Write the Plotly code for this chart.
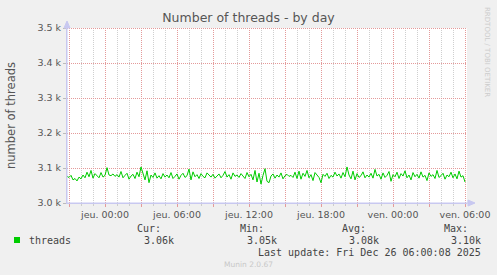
import plotly.graph_objects as go
import pandas as pd

# ---- data ----
start_time = "2025-12-24 20:50"
step_minutes = 10
threads = [
    3076, 3073, 3079, 3066, 3070, 3063, 3074, 3069, 3080, 3072, 3088, 3075, 3093, 3071, 3084, 3077, 3072, 3087, 3074, 3079, 3101, 3080, 3078, 3083, 3076,
    3081, 3074, 3090, 3072, 3079, 3085, 3068, 3077, 3082, 3070, 3088, 3075, 3103, 3082, 3066, 3092, 3058, 3080, 3073, 3086, 3071, 3078, 3069, 3084, 3074,
    3080, 3072, 3087, 3070, 3076, 3083, 3068, 3079, 3085, 3073, 3078, 3097, 3066, 3089, 3075, 3081, 3070, 3084, 3076, 3072, 3086, 3079, 3074, 3082, 3071,
    3077, 3083, 3072, 3079, 3090, 3074, 3081, 3068, 3086, 3076, 3080, 3073, 3084, 3078, 3070, 3087, 3075, 3082, 3066, 3093, 3060, 3085, 3054, 3079, 3098,
    3062, 3058, 3077, 3083, 3071, 3080, 3074, 3086, 3069, 3078, 3082, 3076, 3079, 3073, 3088, 3070, 3091, 3068, 3085, 3076, 3093, 3072, 3081, 3064, 3087,
    3079, 3073, 3058, 3082, 3076, 3085, 3070, 3079, 3074, 3088, 3077, 3083, 3071, 3087, 3075, 3103, 3080, 3069, 3091, 3066, 3084, 3073, 3078, 3089, 3072,
    3080, 3074, 3085, 3071, 3096, 3077, 3082, 3068, 3086, 3073, 3079, 3090, 3062, 3081, 3075, 3088, 3070, 3084, 3077, 3092, 3072, 3080, 3066, 3087, 3075,
    3082, 3071, 3089, 3074, 3079, 3064, 3086, 3076, 3081, 3070, 3093, 3073, 3078, 3085, 3068, 3080, 3075, 3088, 3072, 3083, 3069, 3091, 3074, 3078, 3060,
]
x_range = ["2025-12-24 20:50", "2025-12-26 06:10"]
y_range = [3000, 3500]
y_tickvals = [3000, 3100, 3200, 3300, 3400, 3500]
y_ticktext = ["3.0 k", "3.1 k", "3.2 k", "3.3 k", "3.4 k", "3.5 k"]
x_major = pd.date_range("2025-12-24 21:00", "2025-12-26 06:00", freq="3h")
x_hours = pd.date_range("2025-12-24 21:00", "2025-12-26 06:00", freq="1h")
x_label_map = {
    "2025-12-25 00:00": "jeu. 00:00", "2025-12-25 06:00": "jeu. 06:00",
    "2025-12-25 12:00": "jeu. 12:00", "2025-12-25 18:00": "jeu. 18:00",
    "2025-12-26 00:00": "ven. 00:00", "2025-12-26 06:00": "ven. 06:00",
}
legend_name = "threads"
stats_headers = ["Cur:", "Min:", "Avg:", "Max:"]
stats_values = ["3.06k", "3.05k", "3.08k", "3.10k"]
last_update = "Last update: Fri Dec 26 06:00:08 2025"

times = pd.date_range(start_time, periods=len(threads), freq=f"{step_minutes}min")
major_set = set(x_major)
x_minor = [t for t in x_hours if t not in major_set]

W, H = 497, 275
L, R, T, B = 67, 467, 28, 203

def px(x):
    return (x - L) / (R - L)

def py(y):
    return (B - y) / (B - T)

# half a pixel, in data units, so 1px gridlines land on whole pixel rows/columns
x0_ts, x1_ts = pd.Timestamp(x_range[0]), pd.Timestamp(x_range[1])
half_px_time = (x1_ts - x0_ts) / (R - L) / 2
half_px_val = (y_range[1] - y_range[0]) / (B - T) / 2

TXT = "#555555"
GRID_MAJ = "#E49A9A"
GRID_MIN = "#CFCFCF"
AXIS = "#C8C8F0"
DOT = "1px,1px"

fig = go.Figure()
fig.add_trace(go.Scatter(x=times, y=threads, mode="lines",
                         line=dict(color="#00CC00", width=1), hoverinfo="skip"))
fig.add_trace(go.Scatter(x=[times[0]], y=[threads[0]], mode="markers", xaxis="x2",
                         marker=dict(opacity=0), hoverinfo="skip"))

ticktext = [x_label_map.get(t.strftime("%Y-%m-%d %H:%M"), "") for t in x_major]

fig.update_layout(
    width=W, height=H,
    margin=dict(l=L, r=W - R, t=T, b=H - B, autoexpand=False),
    paper_bgcolor="#F0F0F0", plot_bgcolor="#FFFFFF",
    showlegend=False,
    font=dict(family="DejaVu Sans", color=TXT),
    title=dict(text="Number of threads - by day", x=0.5, xanchor="center",
               y=1 - 18 / H, yanchor="middle", font=dict(size=12.5, color=TXT)),
    xaxis2=dict(range=x_range, overlaying="x", side="bottom", tickvals=x_minor,
                ticktext=["" for _ in x_minor], showgrid=False,
                ticks="outside", ticklen=2, tickcolor="#CCCCCC",
                showline=False, zeroline=False, fixedrange=True, automargin=False),
    xaxis=dict(range=x_range, tickvals=x_major, ticktext=ticktext, showgrid=False,
               ticks="outside", ticklen=3, tickcolor=GRID_MAJ,
               tickfont=dict(size=9.5, color=TXT),
               showline=True, linecolor=AXIS, linewidth=1,
               zeroline=False, fixedrange=True, automargin=False),
    yaxis=dict(range=y_range, tickvals=y_tickvals, ticktext=y_ticktext, showgrid=False,
               ticks="outside", ticklen=3, tickcolor="#BBBBBB",
               tickfont=dict(size=9.5, color=TXT),
               title=dict(text="number of threads", font=dict(size=11.5, color=TXT), standoff=19),
               showline=True, linecolor=AXIS, linewidth=1,
               zeroline=False, fixedrange=True, automargin=False),
)

# gridlines as crisp dotted shapes
for t in x_minor:
    fig.add_shape(type="line", xref="x", yref="paper", x0=t + half_px_time, x1=t + half_px_time,
                  y0=0, y1=1, layer="below", line=dict(color=GRID_MIN, width=1, dash=DOT))
for t in x_major:
    fig.add_shape(type="line", xref="x", yref="paper", x0=t + half_px_time, x1=t + half_px_time,
                  y0=0, y1=1, layer="below", line=dict(color=GRID_MAJ, width=1, dash=DOT))
for v in y_tickvals[1:]:
    fig.add_shape(type="line", xref="paper", yref="y", x0=0, x1=1,
                  y0=v - half_px_val, y1=v - half_px_val, layer="below",
                  line=dict(color=GRID_MAJ, width=1, dash=DOT))

# axis arrows
fig.add_shape(type="line", xref="paper", yref="paper", x0=0, x1=0, y0=0, y1=py(22),
              line=dict(color=AXIS, width=1))
fig.add_shape(type="path", xref="paper", yref="paper",
              path=f"M {px(64)} {py(28)} L {px(70)} {py(28)} L {px(67)} {py(21)} Z",
              fillcolor=AXIS, line=dict(color=AXIS, width=1))
fig.add_shape(type="line", xref="paper", yref="paper", x0=0, x1=px(474), y0=0, y1=0,
              line=dict(color=AXIS, width=1))
fig.add_shape(type="path", xref="paper", yref="paper",
              path=f"M {px(468)} {py(200)} L {px(468)} {py(206)} L {px(475)} {py(203)} Z",
              fillcolor=AXIS, line=dict(color=AXIS, width=1))

MONO = "DejaVu Sans Mono"
ann = []
def text(x, y, s, anchor="left", size=10, color="#444444", family=MONO, angle=0):
    ann.append(dict(x=px(x), y=py(y), xref="paper", yref="paper", text=s, showarrow=False,
                    xanchor=anchor, yanchor="middle", textangle=angle,
                    font=dict(family=family, size=size, color=color)))

# legend
fig.add_shape(type="rect", xref="paper", yref="paper", x0=px(14), x1=px(20), y0=py(243), y1=py(237),
              fillcolor="#00CC00", line=dict(width=0))
text(27, 240, legend_name)
header_right = [163, 266, 368, 470]
value_right = [176, 279, 381, 483]
for h, hr, v, vr in zip(stats_headers, header_right, stats_values, value_right):
    text(hr, 228, h, anchor="right")
    text(vr, 240, v, anchor="right")
text(483, 252, last_update, anchor="right")
text(248, 264, "Munin 2.0.67", anchor="center", size=7.5, color="#C8C8C8", family="DejaVu Sans")
text(487, 52, "RRDTOOL / TOBI OETIKER", anchor="center", size=7, color="#CCCCCC",
     family="DejaVu Sans", angle=90)
fig.update_layout(annotations=ann)

fig.write_html("out.html")
